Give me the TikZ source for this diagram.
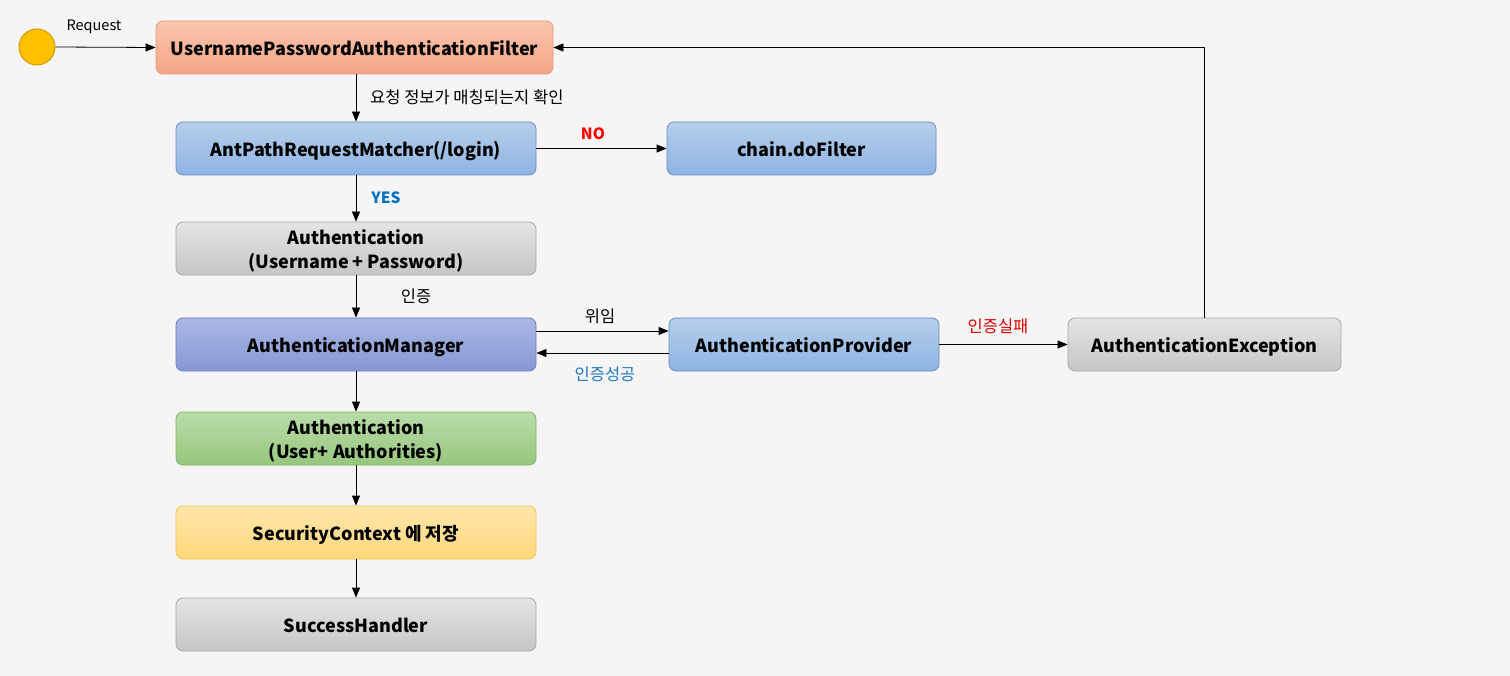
\documentclass[tikz,border=0pt]{standalone}
\usepackage{fontspec}
\setmainfont{Noto Sans CJK KR}
\usetikzlibrary{arrows.meta}
\definecolor{bg}{HTML}{F5F5F5}
\definecolor{orT}{HTML}{F9C6AE}\definecolor{orB}{HTML}{F5A485}\definecolor{orD}{HTML}{E39A7E}
\definecolor{blT}{HTML}{B6CFEB}\definecolor{blB}{HTML}{8EB3E2}\definecolor{blD}{HTML}{6C8EBF}
\definecolor{mgT}{HTML}{AAB8E3}\definecolor{mgB}{HTML}{8797D4}\definecolor{mgD}{HTML}{6C7EB8}
\definecolor{grT}{HTML}{E4E4E4}\definecolor{grB}{HTML}{C6C6C6}\definecolor{grD}{HTML}{A8A8A8}
\definecolor{gnT}{HTML}{B9DCA9}\definecolor{gnB}{HTML}{97C67D}\definecolor{gnD}{HTML}{82B366}
\definecolor{ylT}{HTML}{FFE7AB}\definecolor{ylB}{HTML}{FFD77A}\definecolor{ylD}{HTML}{EAC35A}
\definecolor{cirF}{HTML}{FFC000}\definecolor{cirD}{HTML}{D49A00}
\definecolor{noR}{HTML}{FF0000}\definecolor{yesB}{HTML}{0070C0}\definecolor{okB}{HTML}{1F78C8}\definecolor{failR}{HTML}{E00000}
\newcommand{\twolines}[2]{\raisebox{-7.5pt}[20pt][20pt]{\begin{tabular}{@{}c@{}}#1\\#2\end{tabular}}}
\begin{document}
\begin{tikzpicture}[x=1pt,y=-1pt,
  box/.style={rounded corners=7pt, line width=0.8pt, align=center, inner sep=0pt,
    minimum height=53pt, font=\bfseries\fontsize{18}{24}\selectfont},
  one/.style={text height=16.5pt, text depth=0.5pt},
  orbox/.style={box, draw=orD, top color=orT, bottom color=orB},
  blbox/.style={box, draw=blD, top color=blT, bottom color=blB},
  mgbox/.style={box, draw=mgD, top color=mgT, bottom color=mgB},
  grbox/.style={box, draw=grD, top color=grT, bottom color=grB},
  gnbox/.style={box, draw=gnD, top color=gnT, bottom color=gnB},
  ylbox/.style={box, draw=ylD, top color=ylT, bottom color=ylB},
  arr/.style={line width=0.8pt, -{Triangle[length=10pt,width=8pt]}},
  lbl/.style={font=\fontsize{16.5}{19}\selectfont, inner sep=0pt},
  rlbl/.style={font=\fontsize{14.5}{17}\selectfont, inner sep=0pt},
  blbl/.style={font=\bfseries\fontsize{15.5}{18}\selectfont, inner sep=0pt}]
\fill[bg] (0,0) rectangle (1510,676);
\useasboundingbox (0,0) rectangle (1510,676);

\node[circle, draw=cirD, fill=cirF, line width=1pt, minimum size=36pt, inner sep=0pt] (start) at (37,47) {};
\node[orbox, one, minimum width=397pt] (filter) at (354.5,47.5) {UsernamePasswordAuthenticationFilter};
\node[blbox, one, minimum width=360pt] (ant) at (356,148.5) {AntPathRequestMatcher(/login)};
\node[blbox, one, minimum width=269pt] (chain) at (801.5,148.5) {chain.doFilter};
\node[grbox, minimum width=360pt] (auth1) at (356,248.5) {\twolines{Authentication}{(Username + Password)}};
\node[mgbox, one, minimum width=360pt] (mgr) at (356,344.5) {AuthenticationManager};
\node[gnbox, minimum width=360pt] (auth2) at (356,438.5) {\twolines{Authentication}{(User+ Authorities)}};
\node[ylbox, one, minimum width=360pt] (sec) at (356,532.5) {SecurityContext 에 저장};
\node[grbox, one, minimum width=360pt] (succ) at (356,624.5) {SuccessHandler};
\node[blbox, one, minimum width=270pt] (prov) at (804,344.5) {AuthenticationProvider};
\node[grbox, one, minimum width=273pt] (exc) at (1204.5,344.5) {AuthenticationException};

\draw[arr] (start.east) -- (filter.west);
\node[rlbl] (lreq) at (94,27) {Request};
\draw[arr] (filter.south -| ant.north) -- (ant.north);
\node[lbl, anchor=west] (lmatch) at (370,97) {요청 정보가 매칭되는지 확인};
\draw[arr] (ant.east) -- (chain.west);
\node[blbl, text=noR] (lno) at (593,134) {NO};
\draw[arr] (ant.south) -- (auth1.north);
\node[blbl, text=yesB] (lyes) at (386,198) {YES};
\draw[arr] (auth1.south) -- (mgr.north);
\node[lbl] (lauth) at (416,296) {인증};
\draw[arr] ([yshift=13.5pt]mgr.east) -- ([yshift=13.5pt]prov.west);
\node[lbl] (ldel) at (600,316) {위임};
\draw[arr] ([yshift=-8.5pt]prov.west) -- ([yshift=-8.5pt]mgr.east);
\node[lbl, text=okB] (lok) at (605,374) {인증성공};
\draw[arr] (prov.east) -- (exc.west);
\node[lbl, text=failR] (lfail) at (998,326) {인증실패};
\draw[arr] (exc.north) |- (filter.east);
\draw[arr] (mgr.south) -- (auth2.north);
\draw[arr] (auth2.south) -- (sec.north);
\draw[arr] (sec.south) -- (succ.north);
\end{tikzpicture}
\end{document}
